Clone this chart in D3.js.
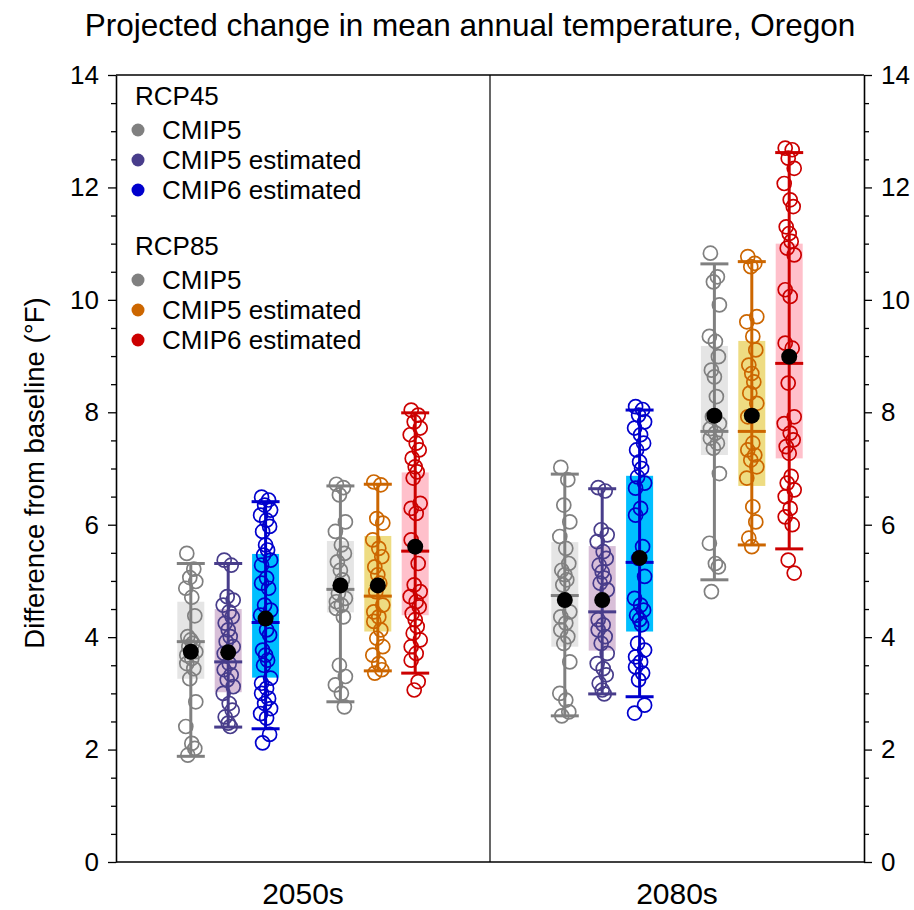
<!DOCTYPE html>
<html>
<head>
<meta charset="utf-8">
<script src="https://cdn.jsdelivr.net/npm/d3@7"></script>
<style>
  html, body { margin: 0; padding: 0; background: #fff; }
  svg { display: block; font-family: "Liberation Sans", Arial, Helvetica, sans-serif; }
</style>
</head>
<body>
<svg id="chart" width="914" height="910"></svg>
<script>
// Categories
const periods = ["2050s", "2080s"];
const scenarios = ["RCP45", "RCP85"];
const sources = ["CMIP5", "CMIP5 estimated", "CMIP6 estimated"];
const yTicks = [0, 2, 4, 6, 8, 10, 12, 14];

// Individual model values (°F), one list per period / scenario / source
const rcp45_cmip5_2050s = [5.49, 5.21, 5.06, 4.99, 4.87, 4.71, 4.38, 4.01, 3.95, 3.89, 3.83, 3.74, 3.68, 3.62, 3.53, 3.44, 3.26, 2.85, 2.41, 2.11, 2.02, 1.90];
const rcp45_cmip5est_2050s = [5.37, 5.28, 4.72, 4.66, 4.57, 4.45, 4.36, 4.25, 4.13, 4.01, 3.92, 3.83, 3.71, 3.53, 3.42, 3.33, 3.24, 3.12, 3.00, 2.82, 2.70, 2.58, 2.47, 2.41];
const rcp45_cmip6est_2050s = [6.49, 6.44, 6.35, 6.26, 6.17, 6.08, 5.97, 5.88, 5.64, 5.55, 5.46, 5.37, 5.28, 5.05, 4.96, 4.87, 4.57, 4.48, 4.39, 4.13, 4.04, 3.77, 3.68, 3.59, 3.50, 3.27, 3.18, 3.09, 3.00, 2.91, 2.82, 2.73, 2.64, 2.56, 2.27, 2.12];
const rcp85_cmip5_2050s = [6.72, 6.66, 6.53, 6.05, 5.88, 5.64, 5.49, 5.34, 5.19, 5.02, 4.78, 4.69, 4.63, 4.57, 4.51, 4.36, 3.50, 3.30, 3.15, 3.00, 2.76];
const rcp85_cmip5est_2050s = [6.76, 6.71, 6.11, 6.03, 5.73, 5.58, 5.43, 5.25, 5.11, 4.96, 4.81, 4.57, 4.45, 4.36, 4.28, 4.13, 3.98, 3.83, 3.68, 3.53, 3.42, 3.36];
const rcp85_cmip6est_2050s = [8.04, 7.95, 7.83, 7.72, 7.60, 7.45, 7.33, 7.18, 7.03, 6.94, 6.83, 6.38, 6.29, 6.20, 5.73, 5.31, 4.93, 4.81, 4.72, 4.63, 4.54, 4.42, 4.31, 4.19, 4.07, 3.95, 3.83, 3.71, 3.59, 3.21, 3.06];
const rcp45_cmip5_2080s = [7.02, 6.80, 6.35, 6.05, 5.79, 5.58, 5.31, 5.19, 5.11, 5.02, 4.93, 4.45, 4.36, 4.25, 4.13, 4.01, 3.89, 3.56, 3.00, 2.88, 2.67, 2.60];
const rcp45_cmip5est_2080s = [6.66, 6.60, 5.91, 5.82, 5.70, 5.52, 5.40, 5.28, 5.16, 5.05, 4.96, 4.84, 4.31, 4.22, 4.13, 4.01, 3.89, 3.71, 3.53, 3.44, 3.33, 3.18, 3.06, 2.99];
const rcp45_cmip6est_2080s = [8.10, 8.05, 7.95, 7.83, 7.72, 7.60, 7.45, 7.33, 7.12, 7.00, 6.85, 6.74, 6.65, 6.29, 6.17, 5.61, 5.40, 5.08, 4.69, 4.57, 4.48, 4.39, 4.31, 4.22, 3.89, 3.77, 3.65, 3.56, 3.47, 3.36, 3.24, 2.79, 2.65];
const rcp85_cmip5_2080s = [10.83, 10.41, 10.32, 9.91, 9.35, 9.26, 8.99, 8.75, 8.63, 8.28, 7.92, 7.80, 7.71, 7.63, 7.54, 7.45, 7.36, 6.91, 5.67, 5.31, 5.25, 4.81];
const rcp85_cmip5est_2080s = [10.77, 10.65, 10.59, 9.70, 9.61, 9.35, 9.11, 8.84, 8.69, 8.54, 8.34, 8.16, 7.92, 7.45, 7.33, 7.24, 7.15, 7.03, 6.83, 6.32, 6.05, 5.76, 5.61];
const rcp85_cmip6est_2080s = [12.70, 12.67, 12.52, 12.34, 12.07, 11.78, 11.66, 11.30, 11.18, 11.04, 10.92, 10.80, 10.18, 10.06, 9.23, 9.14, 8.52, 7.92, 7.80, 7.63, 7.51, 7.39, 7.27, 6.86, 6.74, 6.62, 6.50, 6.29, 6.14, 6.00, 5.37, 5.14];

// Summary statistics per group (order: 2050s RCP45 x3, 2050s RCP85 x3, 2080s RCP45 x3, 2080s RCP85 x3)
const groupMean   = [3.74, 3.73, 4.33, 4.92, 4.92, 5.61, 4.66, 4.66, 5.41, 7.94, 7.94, 8.99];
const groupMedian = [3.92, 3.56, 4.26, 4.85, 4.73, 5.53, 4.74, 4.45, 5.33, 7.66, 7.66, 8.87];
const boxLow      = [3.26, 3.02, 3.28, 4.44, 4.10, 4.39, 3.83, 3.76, 4.10, 7.24, 6.69, 7.18];
const boxHigh     = [4.63, 4.50, 5.48, 5.71, 5.80, 6.93, 5.69, 5.62, 6.87, 9.18, 9.27, 11.00];
const whiskerLow  = [1.88, 2.40, 2.37, 2.85, 3.40, 3.36, 2.60, 2.99, 2.94, 5.02, 5.64, 5.57];
const whiskerHigh = [5.31, 5.31, 6.41, 6.69, 6.72, 7.99, 6.90, 6.64, 8.04, 10.64, 10.68, 12.62];

const pointSets = [
  rcp45_cmip5_2050s, rcp45_cmip5est_2050s, rcp45_cmip6est_2050s,
  rcp85_cmip5_2050s, rcp85_cmip5est_2050s, rcp85_cmip6est_2050s,
  rcp45_cmip5_2080s, rcp45_cmip5est_2080s, rcp45_cmip6est_2080s,
  rcp85_cmip5_2080s, rcp85_cmip5est_2080s, rcp85_cmip6est_2080s
];

// Colours per scenario / source
const lineColors = {
  RCP45: ["#808080", "#483D8B", "#0000CD"],
  RCP85: ["#808080", "#CC6600", "#CC0000"]
};
const boxColors = {
  RCP45: ["#E5E5E5", "#D8BFD8", "#00BFFF"],
  RCP85: ["#E5E5E5", "#EEDC82", "#FFC0CB"]
};

const svg = d3.select("#chart");
const plotLeft = 116, plotRight = 864, plotTop = 75, plotBottom = 862;

const x = d3.scaleLinear().domain([0, 20]).range([plotLeft, plotRight]);
const y = d3.scaleLinear().domain([0, 14]).range([plotBottom, plotTop]);

// Build group records
const groups = [];
periods.forEach((period, p) => {
  scenarios.forEach((scen, s) => {
    sources.forEach((src, k) => {
      const i = p * 6 + s * 3 + k;
      groups.push({
        period, scen, src, i,
        pos: p * 10 + 2 + s * 4 + k,
        stroke: lineColors[scen][k],
        fill: boxColors[scen][k],
        values: pointSets[i],
        mean: groupMean[i], median: groupMedian[i],
        lo: boxLow[i], hi: boxHigh[i],
        wlo: whiskerLow[i], whi: whiskerHigh[i]
      });
    });
  });
});

// Title
svg.append("text")
  .attr("x", 470).attr("y", 36)
  .attr("text-anchor", "middle")
  .attr("font-size", 31.5)
  .text("Projected change in mean annual temperature, Oregon");

// Y axis label
svg.append("text")
  .attr("transform", `translate(44, 473) rotate(-90)`)
  .attr("text-anchor", "middle")
  .attr("font-size", 27.5)
  .text("Difference from baseline (°F)");

// Axes with minor ticks every 0.5
const minor = d3.range(0, 14.01, 0.5).filter(v => v % 2 !== 0);
function addAxis(axisGen, xpos) {
  const gMinor = svg.append("g").attr("transform", `translate(${xpos},0)`)
    .call(axisGen(y).tickValues(minor).tickSize(5).tickFormat(""));
  gMinor.select(".domain").remove();
  gMinor.selectAll("line").attr("stroke-width", 1.3);
  const g = svg.append("g").attr("transform", `translate(${xpos},0)`)
    .call(axisGen(y).tickValues(yTicks).tickSize(8).tickPadding(9).tickSizeOuter(0));
  g.select(".domain").attr("stroke-width", 1.6);
  g.selectAll("line").attr("stroke-width", 1.3);
  g.selectAll("text").attr("font-size", 26).attr("font-family", "Liberation Sans, Arial, sans-serif").attr("fill", "#000");
  return g;
}
addAxis(d3.axisLeft, plotLeft);
addAxis(d3.axisRight, plotRight);

// Frame top, bottom, and period divider
svg.append("line").attr("x1", plotLeft).attr("x2", plotRight).attr("y1", plotTop).attr("y2", plotTop)
  .attr("stroke", "#000").attr("stroke-width", 1.6);
svg.append("line").attr("x1", plotLeft).attr("x2", plotRight).attr("y1", plotBottom).attr("y2", plotBottom)
  .attr("stroke", "#000").attr("stroke-width", 1.6);
svg.append("line").attr("x1", x(10)).attr("x2", x(10)).attr("y1", plotTop).attr("y2", plotBottom)
  .attr("stroke", "#000").attr("stroke-width", 1.2);

// Period labels
periods.forEach((period, p) => {
  svg.append("text")
    .attr("x", x(p * 10 + 5)).attr("y", 904)
    .attr("text-anchor", "middle")
    .attr("font-size", 30)
    .text(period);
});

const boxW = 27, capW = 28;
const jitter = [-4, 3, -1, 5, -5, 1, 4, -3, 0, 2, -2, 5, -4, 1];

const gg = svg.append("g").selectAll("g").data(groups).join("g");

// Interquartile boxes
gg.append("rect")
  .attr("x", d => x(d.pos) - boxW / 2)
  .attr("width", boxW)
  .attr("y", d => y(d.hi))
  .attr("height", d => y(d.lo) - y(d.hi))
  .attr("fill", d => d.fill);

// Whiskers, caps and medians
gg.append("line")
  .attr("x1", d => x(d.pos)).attr("x2", d => x(d.pos))
  .attr("y1", d => y(d.wlo)).attr("y2", d => y(d.whi))
  .attr("stroke", d => d.stroke).attr("stroke-width", 3);
["wlo", "whi", "median"].forEach(key => {
  gg.append("line")
    .attr("x1", d => x(d.pos) - capW / 2).attr("x2", d => x(d.pos) + capW / 2)
    .attr("y1", d => y(d[key])).attr("y2", d => y(d[key]))
    .attr("stroke", d => d.stroke).attr("stroke-width", 3);
});

// Individual model points
gg.each(function (d) {
  d3.select(this).selectAll("circle.pt").data(d.values).join("circle")
    .attr("class", "pt")
    .attr("cx", (v, j) => x(d.pos) + jitter[j % jitter.length])
    .attr("cy", v => y(v))
    .attr("r", 7)
    .attr("fill", "none")
    .attr("stroke", d.stroke)
    .attr("stroke-width", 1.7);
});

// Ensemble means
gg.append("circle")
  .attr("cx", d => x(d.pos))
  .attr("cy", d => y(d.mean))
  .attr("r", 8)
  .attr("fill", "#000");

// Legend
const legend = svg.append("g");
const headerY = [105, 255];
scenarios.forEach((scen, s) => {
  legend.append("text").attr("x", 135).attr("y", headerY[s]).attr("font-size", 26).text(scen);
  sources.forEach((src, k) => {
    const cy = headerY[s] + 25 + k * 30;
    legend.append("circle").attr("cx", 138).attr("cy", cy).attr("r", 6.5).attr("fill", lineColors[scen][k]);
    legend.append("text").attr("x", 162).attr("y", cy + 9).attr("font-size", 26).text(src);
  });
});
</script>
</body>
</html>
